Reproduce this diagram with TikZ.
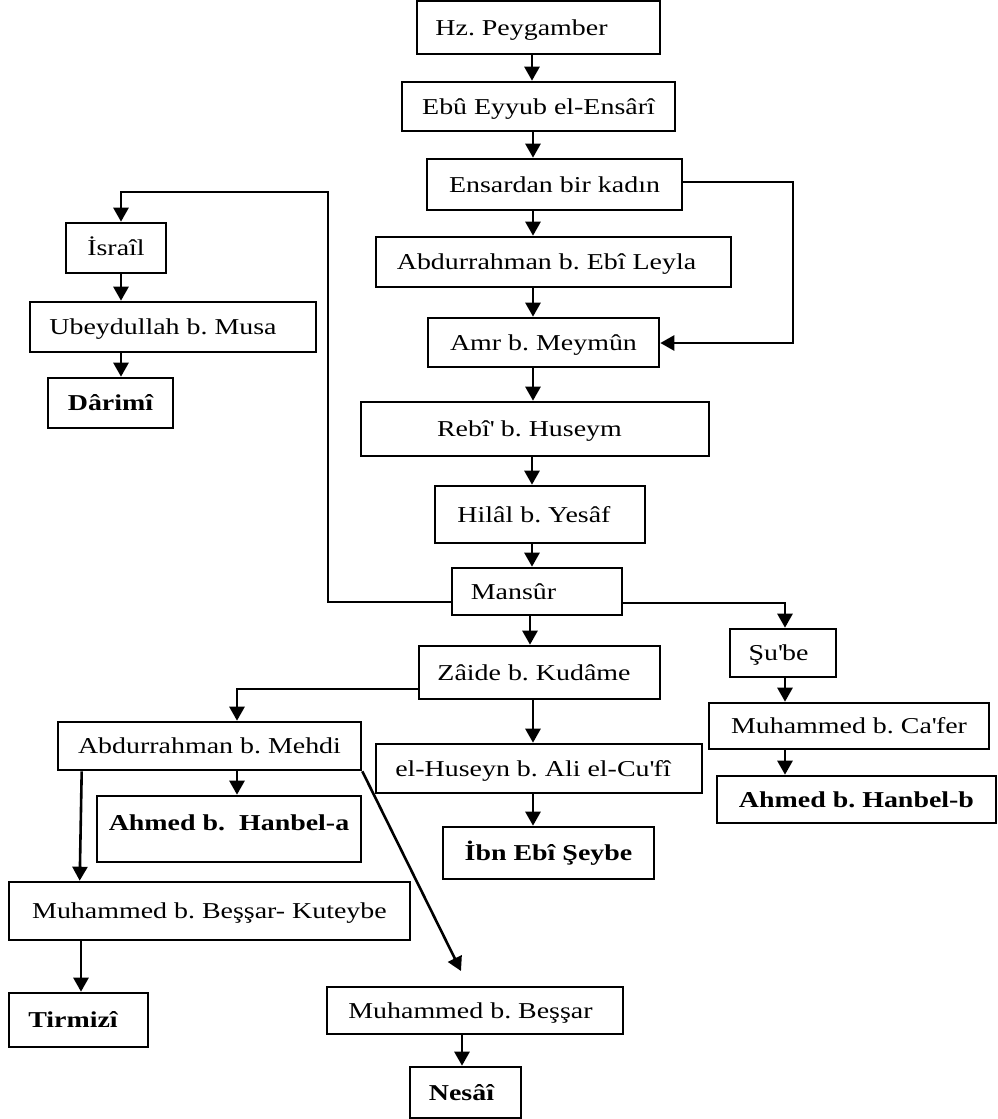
\documentclass[tikz,border=0pt]{standalone}
\usepackage{fontspec}
\setmainfont{Liberation Serif}[FakeStretch=1.23]
\usetikzlibrary{arrows.meta,calc}
\frenchspacing
\newcommand{\q}{\textquotesingle}
\begin{document}
\begin{tikzpicture}[x=1pt,y=-1pt,
  box/.style={draw, line width=2.6pt, inner sep=0pt, text height=15pt, text depth=0pt,
    font=\fontsize{22.7}{27}\selectfont},
  bbox/.style={box, font=\fontsize{22.7}{27}\selectfont\bfseries},
  arr/.style={line width=2.6pt, -{Triangle[length=14pt,width=15pt]}}]
\useasboundingbox[fill=white] (0,0) rectangle (998,1119);

% main chain
\node[box, minimum width=243pt, minimum height=53pt] (hz) at (538.5,27.5) {Hz. Peygamber\hspace*{34pt}};
\node[box, minimum width=273pt, minimum height=49pt] (ebu) at (538.5,106.5) {Ebû Eyyub el-Ensârî};
\node[box, minimum width=255pt, minimum height=51pt] (ens) at (554.5,184.5) {Ensardan bir kadın};
\node[box, minimum width=355pt, minimum height=50pt] (abdl) at (553.5,262) {Abdurrahman b. Ebî Leyla\hspace*{14pt}};
\node[box, minimum width=231pt, minimum height=49pt] (amr) at (543.5,342.5) {Amr b. Meymûn};
\node[box, minimum width=348pt, minimum height=54pt] (rebi) at (535,429) {Rebî\q{} b. Huseym\hspace*{11pt}};
\node[box, minimum width=210pt, minimum height=57pt] (hilal) at (540,514.5) {Hilâl b. Yesâf\hspace*{12pt}};
\node[box, minimum width=170pt, minimum height=47pt] (mansur) at (537,591.5) {Mansûr\hspace*{47pt}};
\node[box, minimum width=241pt, minimum height=53pt] (zaide) at (539.5,672.5) {Zâide b. Kudâme\hspace*{11pt}};
\node[box, minimum width=326pt, minimum height=49pt] (huseyn) at (539,768.5) {el-Huseyn b. Ali el-Cu\q{}fî\hspace*{12pt}};
\node[bbox, minimum width=211pt, minimum height=52pt] (ibn) at (548.5,853) {İbn Ebî Şeybe};

% right branch
\node[box, minimum width=106pt, minimum height=48pt] (sube) at (783,653) {Şu\q{}be\hspace*{9pt}};
\node[box, minimum width=280pt, minimum height=46pt] (cafer) at (849,726) {Muhammed b. Ca\q{}fer};
\node[bbox, minimum width=279pt, minimum height=47pt] (ahmb) at (856.5,799.5) {Ahmed b. Hanbel-b};

% left top branch
\node[box, minimum width=100pt, minimum height=50pt] (israil) at (116,248) {İsraîl};
\node[box, minimum width=286pt, minimum height=50pt] (ubeyd) at (173,327) {Ubeydullah b. Musa\hspace*{20pt}};
\node[bbox, minimum width=125pt, minimum height=50pt] (darimi) at (110.5,403) {Dârimî};

% left bottom branch
\node[box, minimum width=303pt, minimum height=48pt] (abdm) at (209.5,746) {Abdurrahman b. Mehdi};
\node[bbox, minimum width=264pt, minimum height=66pt, text depth=12pt] (ahma) at (229,829) {Ahmed b.\ \ Hanbel-a};
\node[box, minimum width=401pt, minimum height=58pt] (muhk) at (209.5,911) {Muhammed b. Beşşar- Kuteybe};
\node[bbox, minimum width=139pt, minimum height=54pt] (tirmizi) at (78.5,1020) {Tirmizî\hspace*{11pt}};
\node[box, minimum width=296pt, minimum height=47pt] (muhb) at (475,1010.5) {Muhammed b. Beşşar\hspace*{9pt}};
\node[bbox, minimum width=111pt, minimum height=51pt] (nesai) at (465.5,1092.5) {Nesâî\hspace*{8pt}};

\coordinate (dtip) at (461,971);

% vertical arrows of main chain
\draw[arr] (hz.south -| 532,0) -- (ebu.north -| 532,0);
\draw[arr] (ebu.south -| 533,0) -- (ens.north -| 533,0);
\draw[arr] (ens.south -| 533,0) -- (abdl.north -| 533,0);
\draw[arr] (abdl.south -| 533,0) -- (amr.north -| 533,0);
\draw[arr] (amr.south -| 533,0) -- (rebi.north -| 533,0);
\draw[arr] (rebi.south -| 532,0) -- (hilal.north -| 532,0);
\draw[arr] (hilal.south -| 532,0) -- (mansur.north -| 532,0);
\draw[arr] (mansur.south -| 530,0) -- (zaide.north -| 530,0);
\draw[arr] (zaide.south -| 533,0) -- (huseyn.north -| 533,0);
\draw[arr] (huseyn.south -| 533,0) -- (ibn.north -| 533,0);

% Ensardan -> Amr
\draw[arr] (ens.east |- 0,182) -- (793,182) -- (793,343) -- (amr.east |- 0,343);

% Mansur -> Israil loop
\draw[arr] (mansur.west |- 0,602) -- (328,602) -- (328,192) -- (121,192) -- (israil.north -| 121,0);
\draw[arr] (israil.south -| 121,0) -- (ubeyd.north -| 121,0);
\draw[arr] (ubeyd.south -| 121,0) -- (darimi.north -| 121,0);

% Mansur -> Sube
\draw[arr] (mansur.east |- 0,603) -- (785,603) -- (sube.north -| 785,0);
\draw[arr] (sube.south -| 785,0) -- (cafer.north -| 785,0);
\draw[arr] (cafer.south -| 785,0) -- (ahmb.north -| 785,0);

% Zaide -> Abdurrahman b. Mehdi
\draw[arr] (zaide.west |- 0,689) -- (237,689) -- (abdm.north -| 237,0);
\draw[arr] (abdm.south -| 237,0) -- (ahma.north -| 237,0);
\draw[arr] ($(abdm.south west)+(25,0)$) -- ($(muhk.north west)+(72,0)$);
\draw[arr] (muhk.south -| 81,0) -- (tirmizi.north -| 81,0);
\draw[arr] (abdm.south east) -- (dtip);
\draw[arr] (muhb.south -| 462,0) -- (nesai.north -| 462,0);
\end{tikzpicture}
\end{document}
